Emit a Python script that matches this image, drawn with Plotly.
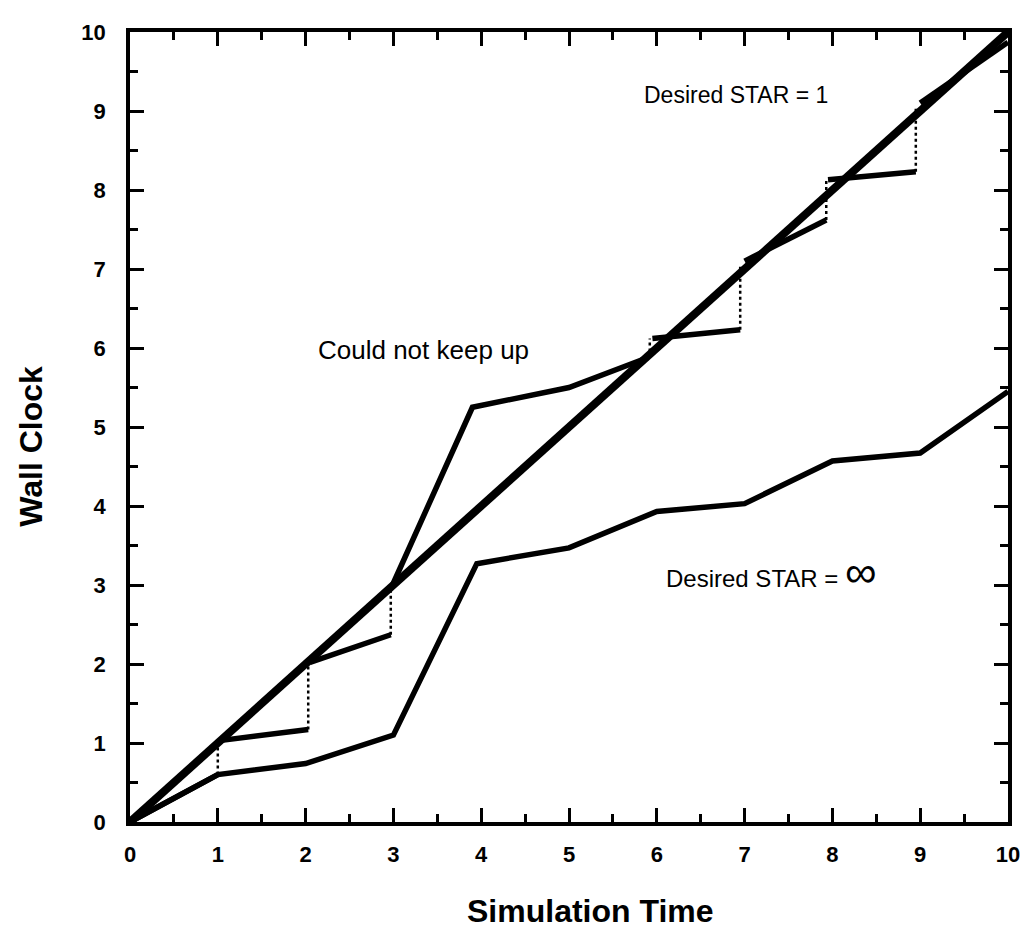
import plotly.graph_objects as go

# ---- data ----
ideal_x = [0, 10]
ideal_y = [0, 10]

# Desired STAR = infinity (lower curve)
inf_x = [0, 1, 2, 3, 3.95, 5, 6, 7, 8, 9, 10]
inf_y = [0, 0.6, 0.74, 1.1, 3.27, 3.47, 3.93, 4.03, 4.57, 4.67, 5.45]

# Desired STAR = 1 (sawtooth curve) – solid segments, one list per segment
star1_seg_x = [[0, 1], [1.02, 2.03], [2.05, 2.97], [2.99, 3.9, 5.0, 5.9], [5.95, 6.95], [7.0, 7.93], [7.95, 8.95], [9.0, 10]]
star1_seg_y = [[0, 0.6], [1.03, 1.17], [2.02, 2.37], [3.0, 5.25, 5.5, 5.88], [6.12, 6.23], [7.1, 7.62], [8.13, 8.23], [9.1, 9.87]]

# dotted catch-up jumps: x position, from y, to y
jump_x = [1.0, 2.03, 2.97, 5.92, 6.95, 7.93, 8.95]
jump_y0 = [0.6, 1.17, 2.37, 5.88, 6.23, 7.62, 8.23]
jump_y1 = [1.03, 2.02, 3.0, 6.12, 7.05, 8.12, 9.05]

tick_vals = list(range(0, 11))
tick_text = [str(v) for v in tick_vals]

FONT = "Liberation Sans, Arial, sans-serif"

fig = go.Figure()

# solid segments of STAR=1 curve
sx, sy = [], []
for xs, ys in zip(star1_seg_x, star1_seg_y):
    sx += xs + [None]
    sy += ys + [None]
fig.add_trace(go.Scatter(x=sx, y=sy, mode="lines",
                         line=dict(color="black", width=5.5), showlegend=False))

# dotted jumps
jx, jy = [], []
for x, a, b in zip(jump_x, jump_y0, jump_y1):
    jx += [x, x, None]
    jy += [a, b, None]
fig.add_trace(go.Scatter(x=jx, y=jy, mode="lines",
                         line=dict(color="black", width=2.5, dash="dot"), showlegend=False))

# lower curve
fig.add_trace(go.Scatter(x=inf_x, y=inf_y, mode="lines",
                         line=dict(color="black", width=5.5), showlegend=False))

# ideal diagonal
fig.add_trace(go.Scatter(x=ideal_x, y=ideal_y, mode="lines",
                         line=dict(color="black", width=8), showlegend=False))

axis_common = dict(
    range=[0, 10], tickvals=tick_vals, ticktext=tick_text,
    ticks="inside", ticklen=14, tickwidth=3, tickcolor="black",
    minor=dict(dtick=0.5, ticks="inside", ticklen=8, tickwidth=3, tickcolor="black"),
    showline=True, linewidth=3.5, linecolor="black", mirror="allticks",
    showgrid=False, zeroline=False,
    tickfont=dict(family=FONT, size=22, color="black", weight="bold"),
)

fig.update_xaxes(**axis_common, ticklabelstandoff=10)
fig.update_yaxes(**axis_common, ticklabelstandoff=16)

fig.update_layout(
    width=1033, height=937,
    margin=dict(l=122, r=33, t=12, b=123),
    plot_bgcolor="white", paper_bgcolor="white",
    font=dict(family=FONT, color="black"),
    annotations=[
        dict(text="<b>Simulation Time</b>", xref="paper", yref="paper", x=0.525, y=0,
             yanchor="middle", xanchor="center", yshift=-89, showarrow=False,
             font=dict(family=FONT, size=32, color="black")),
        dict(text="<b>Wall Clock</b>", xref="paper", yref="paper", x=0, y=0.475,
             xanchor="center", yanchor="middle", xshift=-99, textangle=-90, showarrow=False,
             font=dict(family=FONT, size=32, color="black")),
        dict(text="Desired STAR = 1", x=6.9, y=9.2, showarrow=False,
             font=dict(family=FONT, size=23, color="black")),
        dict(text="Could not keep up", x=3.34, y=5.98, showarrow=False,
             font=dict(family=FONT, size=26, color="black")),
        dict(text="Desired STAR = <span style='font-size:44px'>∞</span>", x=7.3, y=3.17,
             showarrow=False, font=dict(family=FONT, size=24, color="black")),
    ],
)

fig.write_html("out.html")
